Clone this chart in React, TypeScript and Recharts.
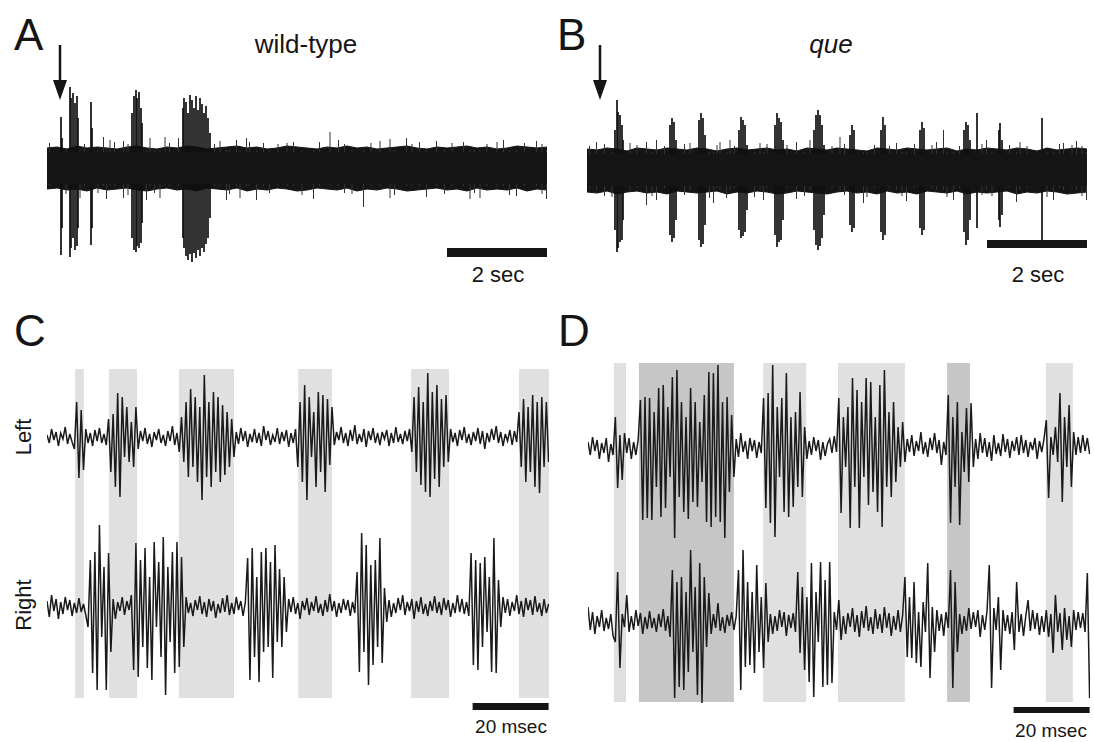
import React from 'react';
import { ComposedChart, Area, Line, XAxis, YAxis, ReferenceArea, ReferenceLine } from 'recharts';

// ---- A / B : 10 s overview sweeps (amplitude in arbitrary units, + is up)
const sweepSec = 10.04;
const envStepSec = 0.2;

// wild-type: envelope of the background noise band, every 0.2 s
const wtEnvTop = [20, 21, 19, 22, 20, 21, 20, 19, 21, 22, 20, 19, 21, 20, 22, 21, 19, 20, 21, 22, 20, 21, 19, 20, 22, 21, 20, 19, 21, 20, 22, 20, 21, 19, 20, 21, 22, 20, 19, 21, 20, 21, 22, 20, 21, 19, 20, 22, 21, 20, 21];
const wtEnvBottom = [-21, -20, -22, -21, -23, -20, -22, -21, -20, -22, -23, -21, -20, -22, -21, -23, -20, -21, -22, -20, -23, -21, -22, -20, -21, -23, -22, -20, -21, -22, -20, -23, -21, -22, -20, -21, -23, -22, -21, -20, -22, -21, -23, -20, -22, -21, -22, -20, -23, -21, -22];
// wild-type: burst spikes (time s, peak up, peak down)
const wtBurstTime = [0.28, 0.30, 0.46, 0.48, 0.52, 0.56, 0.60, 0.62, 0.88, 0.90, 1.70, 1.74, 1.78, 1.80, 1.84, 1.88, 1.90, 2.72, 2.74, 2.78, 2.82, 2.86, 2.90, 2.94, 2.98, 3.02, 3.06, 3.10, 3.14, 3.18, 3.22, 3.26];
const wtBurstTop = [51, 30, 81, 70, 75, 65, 72, 50, 66, 40, 55, 72, 78, 70, 76, 60, 45, 60, 70, 66, 55, 73, 68, 60, 72, 58, 70, 64, 55, 62, 50, 35];
const wtBurstBottom = [-87, -60, -89, -80, -70, -82, -78, -60, -77, -60, -70, -82, -84, -78, -80, -75, -55, -70, -80, -88, -92, -86, -94, -85, -90, -82, -88, -80, -84, -76, -70, -50];
// wild-type: isolated noise spikes poking out of the band
const wtHairTime = [
  1.13, 1.19, 1.26, 1.53, 1.99, 2.06, 2.26, 2.36, 2.63, 3.46, 3.59, 3.79, 3.86, 3.99, 4.19, 4.33, 4.93, 5.33, 5.66, 5.83, 6.33, 6.66, 6.86, 7.19, 7.59, 7.79, 8.33, 8.46, 8.66, 9.13, 9.39, 9.79, 9.99, 0.66,
  0.05, 0.38, 0.75, 1.02, 1.35, 1.62, 2.15, 2.45, 3.35, 3.65, 4.05, 4.45, 4.62, 4.80, 5.10, 5.45, 5.95, 6.10, 6.48, 6.95, 7.30, 7.45, 7.95, 8.10, 8.55, 8.80, 9.00, 9.25, 9.55, 9.90,
];
const wtHairTop = [
  31, 18, 28, 27, 18, 30, 18, 31, 30, 27, 18, 28, 18, 30, 18, 25, 26, 18, 36, 28, 18, 27, 29, 30, 18, 27, 26, 18, 18, 28, 18, 27, 18, 18,
  25, 18, 24, 18, 26, 24, 18, 25, 24, 18, 26, 18, 24, 25, 18, 26, 24, 18, 25, 18, 24, 26, 18, 25, 18, 24, 26, 18, 25, 24,
];
const wtHairBottom = [
  -18, -31, -18, -30, -32, -18, -30, -18, -18, -18, -32, -18, -30, -18, -32, -18, -18, -31, -18, -18, -39, -18, -30, -18, -29, -18, -18, -31, -30, -18, -28, -18, -31, -30,
  -18, -26, -18, -25, -18, -27, -25, -18, -18, -26, -18, -25, -18, -18, -27, -18, -25, -26, -18, -27, -18, -18, -26, -18, -25, -18, -18, -27, -18, -26,
];

// que
const queEnvTop = [21, 20, 22, 21, 19, 22, 21, 20, 22, 21, 20, 22, 21, 19, 21, 22, 20, 21, 22, 20, 21, 19, 22, 21, 20, 22, 21, 20, 19, 22, 21, 20, 22, 21, 20, 21, 22, 19, 21, 20, 22, 21, 20, 22, 21, 19, 22, 20, 21, 22, 21];
const queEnvBottom = [-22, -23, -21, -24, -22, -21, -23, -22, -24, -21, -22, -23, -22, -21, -24, -22, -23, -21, -22, -24, -23, -21, -22, -23, -24, -22, -21, -23, -22, -24, -21, -23, -22, -24, -21, -22, -23, -21, -24, -22, -23, -22, -21, -24, -22, -23, -21, -22, -24, -23, -22];
const queBurstTime = [0.56, 0.60, 0.62, 0.66, 0.70, 0.72, 1.66, 1.70, 1.74, 1.78, 2.24, 2.28, 2.32, 2.36, 3.04, 3.08, 3.12, 3.16, 3.20, 3.76, 3.80, 3.84, 3.88, 3.92, 4.54, 4.58, 4.62, 4.66, 4.70, 4.74, 5.26, 5.30, 5.34, 5.88, 5.92, 5.96, 6.66, 6.70, 6.74, 7.54, 7.58, 7.62, 7.66, 7.80, 8.24, 8.26, 8.30, 9.10];
const queBurstTop = [40, 70, 58, 55, 45, 30, 45, 52, 48, 30, 50, 57, 52, 35, 40, 53, 50, 45, 25, 45, 57, 52, 48, 30, 40, 55, 60, 55, 45, 25, 35, 45, 40, 40, 53, 45, 40, 48, 42, 40, 48, 45, 30, 57, 40, 47, 30, 52];
const queBurstBottom = [-60, -82, -78, -72, -70, -50, -65, -72, -68, -50, -70, -77, -74, -55, -60, -68, -66, -62, -40, -65, -77, -72, -70, -50, -60, -75, -80, -76, -68, -45, -55, -62, -58, -62, -70, -65, -58, -65, -60, -62, -75, -70, -50, -58, -50, -57, -45, -70];
const queHairTime = [
  0.19, 0.86, 1.19, 1.39, 2.06, 2.53, 2.66, 2.79, 2.86, 3.46, 3.53, 4.19, 4.46, 5.06, 5.53, 6.19, 6.39, 6.99, 7.13, 7.33, 7.99, 8.59, 8.66, 9.33, 9.53, 9.79, 9.99,
  0.05, 0.35, 0.50, 1.00, 1.30, 1.55, 1.95, 2.45, 2.60, 2.95, 3.35, 3.60, 4.00, 4.35, 4.90, 5.15, 5.60, 5.75, 6.05, 6.30, 6.55, 6.90, 7.20, 7.45, 7.90, 8.10, 8.45, 8.80, 9.20, 9.45, 9.70, 9.90,
];
const queHairTop = [
  28, 27, 28, 30, 27, 18, 28, 18, 30, 27, 18, 28, 30, 33, 18, 27, 18, 28, 40, 18, 30, 18, 28, 18, 27, 29, 18,
  24, 26, 18, 25, 18, 24, 26, 18, 25, 24, 18, 26, 25, 18, 24, 26, 18, 25, 24, 18, 26, 25, 18, 24, 26, 18, 25, 24, 18, 26, 25, 24,
];
const queHairBottom = [
  -20, -20, -35, -30, -20, -33, -20, -28, -20, -20, -30, -29, -20, -20, -33, -20, -31, -20, -20, -30, -20, -32, -20, -30, -20, -20, -30,
  -18, -26, -27, -18, -26, -18, -25, -28, -18, -18, -27, -18, -18, -26, -18, -25, -27, -18, -18, -26, -18, -18, -27, -18, -25, -26, -18, -18, -27, -18, -18, -26,
];

// ---- C / D : 132 ms expanded traces, one sample every 0.6 ms
const zoomMs = 132.1;
const sampleMs = 0.6;

const cLeft = [
  2, -6, 8, -3, 5, -9, 4, -2, 10, -7,
  3, -5, -12, 35, -41, 27, -33, 8, -6, 4,
  -9, 7, -4, 9, -6, 3, -8,
  18, -35, 23, -50, 44, -60, 40, -20, 30, -25, 15, -30, 30, -12,
  6, -4, 9, -7, 3, -10, 5, -3, 8, -6, 2, -9, 6, -4, 11, -8, 4,
  -15, 20, -25, 35, -40, 48, -30, 40, -45, 30, -63, 62, -40, 35, -50, 45, -35, 40, -45, 32, -38, 25, -30, 18, -20,
  5, -7, 9, -4, 6, -10, 3, -5, 8, -6, 4, -9, 11, -3, 6, -8, 2, -5, 9, -7, 5, -4, 7, -10, 4, -6, 8,
  -30, 35, -45, 52, -63, 40, -20, 25, -50, 45, -35, 42, -55, 38, -28, 30,
  -8, 5, -3, 10, -6, 4, -9, 7, -4, 12, -7, 3, -5, 8, -10, 6, -3, 9, -6, 4, -8, 5, -2, 7, -9, 4, -6, 10, -5, 3, -7, 6, -4, 8,
  -15, 40, -35, 50, -48, 35, -55, 64, -60, 45, -42, 52, -50, 38, -30, 42, -25,
  8, -5, 4, -9, 7, -3, 10, -6, 3, -8, 5, -4, 9, -7, 6, -12, 4, -5, 8, -3, 11, -6, 5, -9, 3, -4, 7, -8, 6, -5,
  25, -30, 38, -45, 30, -35, 42, -50, 35, -56, 40, -30, 35, -25,
];
const cRight = [
  6, -10, 12, -4, 8, -12, 5, -7, 10, -3, 7, -9, 4, -6, 9, -5, 3, -8,
  -20, 47, -66, 55, -83, 82, -30, 40, -83, 54, -45,
  8, -12, 5, -4, 10, -8, 6, -3, 12,
  -63, 64, -70, 47, -40, 59, -61, 30, -73, 65, -20, 45, -50, 70, -88, 40, -35, 55, -66, 65, -60, 50, -40,
  10, -6, 4, -9, 7, -3, 11, -7, 5, -10, 8, -4, 6, -11, 3, -6, 9, -5, 12, -8, 4, -7, 10, -3, 6, -9, 5,
  49, -73, 59, -50, 30, -75, 55, -45, 59, -40, 45, -71, 62, -35, 38, -40, 30, -25,
  8, -5, 10, -7, 4, -12, 6, -3, 9, -8, 5, -4, 11, -6, 3, -9, 7, -5, 13, -4, 6, -10, 4, -6, 8, -3, 7, -9, 5, -6,
  35, -65, 74, -45, 62, -78, 42, -58, 47, -40, 69, -56, 19, -15,
  7, -10, 4, -6, 9, -3, 12, -8, 5, -4, 8, -12, 6, -5, 10, -7, 3, -9, 6, -4, 11, -6, 5, -8, 9, -3, 7, -10, 4, -6, 12, -5, 8, -7, 5, -9,
  54, -58, 47, -63, 44, -40, 50, -25, 30, -65, 69, -66, 27, -20,
  10, -6, 8, -9, 5, -4, 12, -7, 6, -10, 9, -3, 7, -8, 11, -5, 4, -9, 8, -6, 3,
];
const cBandStart = [7.4, 16.3, 34.7, 66.1, 95.8, 124.2];
const cBandEnd = [9.7, 23.7, 49.2, 75.0, 105.8, 132.1];

const dLeft = [
  5, -8, 10, -4, 7, -12, 4, -6, 9, -15, 3,
  -8, 30, -41, 12, -33, 14,
  -6, 9, -12, 5, -8, 7,
  47, -73, 50, -71, 49, -73, 35, -40, 59, -70, 62, -61, 40, -30, 70, -91, 77, -50, 45, -65, 30, -72, 59, -55, 45, -60, 25, -35, 52, -75, 75, -80, 74, -70, 82, -75, 45, -91, 50, -45, 32, -30,
  8, -10, 14, -5, 6, -12, 9, -4, 7, -11, 5, -6,
  49, -61, 54, -76, 82, -90, 40, -30, 49, -65, 74, -70, 30, -60, 35, -40, 55, -50, 20,
  -12, 6, -8, 10, -4, 7, -13, 5, -9, 3, 8, -6, 11, -5,
  49, -66, 30, -20, 40, -81, 69, -40, 57, -81, 45, -30, 69, -58, 65, -45, 30, -65, 62, -80, 77, -40, 35, -50, 45, -35, 20, -20, 25, -15,
  8, -5, 12, -9, 6, -4, 15, -7, 5, -10, 9, -3, 14, -6, 7, -18, 5, -8,
  52, -76, 30, -40, 45, -78, 15, -25, 39, -35,
  44, -20, 8, -12, 14, -6, 9, -10, 5, -14, 12, -7, 4, -9, 13, -5, 8, -11, 6, -4, 10, -8, 12, -6, 7, -10, 5, -3, 9, -12, 6, -5, 8,
  27, -51, 10, -8, 20, -15, 54, -55, 30, -20, 42, -40,
  15, -8, 10, -6, 12, -4, 9, -7,
];
const dRight = [
  15, -8, 10, -12, 6, -5, 12, -9, 4, -7, 8, -14,
  -20, 50, -46,
  8, -5, 27, -10, 6, -8, 12, -4, 9, -12, 5, -7, 11, -6, 4, -10, 8, -5, 13, -9, 6,
  -15, 52, -76, 40, -65, 45, -68, 30, -50, 72, -30, 35, -73, 59, -81, 45, -25, 29,
  -12, 8, -6, 19, -9, 5, -11, 7, -4, 10, -8, 6,
  52, -68, 72, -45, 40, -43, 30, -51, 57, -30, 25, -46,
  39, -20, 8, -12, 6, -9, 12, -5, 10, -14, 7, -6, 9, -10,
  50, -31, 35, -48, 25, -60, 59, -75, 30, -20, 60, -65, 42, -63, 60, -61,
  10, -8, 22, -18, 6, -12, 9, -5, 14, -10, 7, -15, 11, -6, 16, -9, 5, -12, 13, -7, 8, -11, 15, -6, 9, -14, 6, -8, 12, -10, 7,
  45, -35, 25, -36, 40, -41, 10, -45, 20, -10, 59, -56, 15, -30,
  12, -9, 8, -14, 10, -6,
  52, -66, 40, -30,
  8, -12, 6, -9, 14, -7, 10, -5, 12, -15, 7, -8, 11,
  57, -66,
  14, -8, 25, -48, 12,
  -9, 7, -12, 10, -28, 40,
  -10, 8, -14, 6, 22, -9, 12, -7, 9, -13, 6, -10,
  12, -15, 8, -31, 27, -10, 9, -28, 14, -18, 6, -25, 12, -8, 10,
  -6, 9, -10, 49, -76,
];
const dBandStart = [6.8, 13.4, 46.1, 65.8, 94.5, 120.5];
const dBandEnd = [10.0, 38.4, 57.4, 83.4, 100.5, 127.6];
const dBandBilateral = [false, true, false, false, true, false];

const FONT = '"Liberation Sans", Arial, Helvetica, sans-serif';
const INK = '#151515';
const LIGHT = '#e0e0e0';
const DARK = '#c6c6c6';
// spikes are only drawn where they leave the solid noise band
const BAND_CORE = 16;

function spikeSegments(sp: any, prefix: string, stroke: string, width: number) {
  const out: React.ReactNode[] = [];
  sp.time.forEach((t: number, i: number) => {
    if (sp.top[i] > BAND_CORE) {
      out.push(<ReferenceLine key={prefix + 'u' + i} segment={[{ x: t, y: BAND_CORE }, { x: t, y: sp.top[i] }]} stroke={stroke} strokeWidth={width} />);
    }
    if (sp.bottom[i] < -BAND_CORE) {
      out.push(<ReferenceLine key={prefix + 'd' + i} segment={[{ x: t, y: sp.bottom[i] }, { x: t, y: -BAND_CORE }]} stroke={stroke} strokeWidth={width} />);
    }
  });
  return out;
}

function Sweep({ left, top, baseY, envTop, envBottom, bursts, hairs, barY }: any) {
  const width = 502;
  const height = 200;
  const yMax = baseY - top;
  const data = envTop.map((hi: number, i: number) => ({ t: +(i * envStepSec).toFixed(2), env: [envBottom[i], hi] }));
  return (
    <div style={{ position: 'absolute', left, top }}>
      <ComposedChart width={width} height={height} data={data} margin={{ top: 0, right: 0, bottom: 0, left: 0 }}>
        <XAxis type="number" dataKey="t" domain={[0, sweepSec]} hide allowDataOverflow />
        <YAxis type="number" domain={[yMax - height, yMax]} hide allowDataOverflow />
        <Area type="linear" dataKey="env" stroke={INK} strokeWidth={1} fill={INK} fillOpacity={1} dot={false} activeDot={false} isAnimationActive={false} />
        {spikeSegments(hairs, 'h', '#333333', 1)}
        {spikeSegments(bursts, 'b', '#101010', 1.7)}
        <ReferenceArea x1={8} x2={10} y1={baseY - barY[1]} y2={baseY - barY[0]} fill={INK} fillOpacity={1} stroke="none" />
      </ComposedChart>
    </div>
  );
}

function PairTraces({ left, leftBaseY, rightBaseY, leftTrace, rightTrace, bandStart, bandEnd, bandFill, bandY, barY }: any) {
  const top = 355;
  const width = 502;
  const height = 387;
  const data = leftTrace.map((v: number, i: number) => ({ t: +(i * sampleMs).toFixed(1), L: v, R: rightTrace[i] }));
  const dom = (base: number) => [base - (top + height), base - top];
  return (
    <div style={{ position: 'absolute', left, top }}>
      <ComposedChart width={width} height={height} data={data} margin={{ top: 0, right: 0, bottom: 0, left: 0 }}>
        <XAxis type="number" dataKey="t" domain={[0, zoomMs]} hide allowDataOverflow />
        <YAxis yAxisId="L" type="number" domain={dom(leftBaseY)} hide allowDataOverflow />
        <YAxis yAxisId="R" type="number" domain={dom(rightBaseY)} hide allowDataOverflow />
        {bandStart.map((s: number, i: number) => (
          <ReferenceArea key={'band' + i} yAxisId="L" x1={s} x2={bandEnd[i]} y1={leftBaseY - bandY[1]} y2={leftBaseY - bandY[0]} fill={bandFill[i]} fillOpacity={1} stroke="none" />
        ))}
        <Line yAxisId="L" type="linear" dataKey="L" stroke="#1a1a1a" strokeWidth={1.5} dot={false} activeDot={false} isAnimationActive={false} />
        <Line yAxisId="R" type="linear" dataKey="R" stroke="#1a1a1a" strokeWidth={1.5} dot={false} activeDot={false} isAnimationActive={false} />
        <ReferenceArea yAxisId="L" x1={112} x2={132} y1={leftBaseY - barY[1]} y2={leftBaseY - barY[0]} fill={INK} fillOpacity={1} stroke="none" />
      </ComposedChart>
    </div>
  );
}

function Arrow({ x }: { x: number }) {
  return (
    <g>
      <line x1={x} y1={45} x2={x} y2={84} stroke={INK} strokeWidth={2.5} />
      <polygon points={`${x - 7},80 ${x + 7},80 ${x},100`} fill={INK} />
    </g>
  );
}

export default function App() {
  return (
    <div style={{ position: 'absolute', left: 0, top: 0, width: 1094, height: 742, background: '#fff', fontFamily: FONT, overflow: 'hidden' }}>
      <Sweep
        left={47} top={80} baseY={168} envTop={wtEnvTop} envBottom={wtEnvBottom}
        bursts={{ time: wtBurstTime, top: wtBurstTop, bottom: wtBurstBottom }}
        hairs={{ time: wtHairTime, top: wtHairTop, bottom: wtHairBottom }}
        barY={[248, 257]}
      />
      <Sweep
        left={587} top={80} baseY={170} envTop={queEnvTop} envBottom={queEnvBottom}
        bursts={{ time: queBurstTime, top: queBurstTop, bottom: queBurstBottom }}
        hairs={{ time: queHairTime, top: queHairTop, bottom: queHairBottom }}
        barY={[240, 248]}
      />
      <PairTraces
        left={47} leftBaseY={437} rightBaseY={607} leftTrace={cLeft} rightTrace={cRight}
        bandStart={cBandStart} bandEnd={cBandEnd} bandFill={cBandStart.map(() => LIGHT)}
        bandY={[369, 698]} barY={[703, 710]}
      />
      <PairTraces
        left={588} leftBaseY={447} rightBaseY={622} leftTrace={dLeft} rightTrace={dRight}
        bandStart={dBandStart} bandEnd={dBandEnd} bandFill={dBandBilateral.map((b) => (b ? DARK : LIGHT))}
        bandY={[363, 702]} barY={[707, 713]}
      />
      <svg width={1094} height={742} style={{ position: 'absolute', left: 0, top: 0, pointerEvents: 'none' }} fontFamily={FONT} fill={INK}>
        <text x={14} y={50} fontSize={44}>A</text>
        <text x={557} y={50} fontSize={44}>B</text>
        <text x={14} y={346} fontSize={44}>C</text>
        <text x={558} y={346} fontSize={44}>D</text>
        <text x={306} y={53} fontSize={26} textAnchor="middle">wild-type</text>
        <text x={831} y={53} fontSize={26} textAnchor="middle" fontStyle="italic">que</text>
        <Arrow x={60} />
        <Arrow x={600} />
        <text x={498} y={282} fontSize={22} textAnchor="middle">2 sec</text>
        <text x={1038} y={282} fontSize={22} textAnchor="middle">2 sec</text>
        <text x={511} y={733} fontSize={19} textAnchor="middle">20 msec</text>
        <text x={1051} y={737} fontSize={19} textAnchor="middle">20 msec</text>
        <text x={31} y={437} fontSize={22} textAnchor="middle" transform="rotate(-90 31 437)">Left</text>
        <text x={31} y={605} fontSize={22} textAnchor="middle" transform="rotate(-90 31 605)">Right</text>
      </svg>
    </div>
  );
}
